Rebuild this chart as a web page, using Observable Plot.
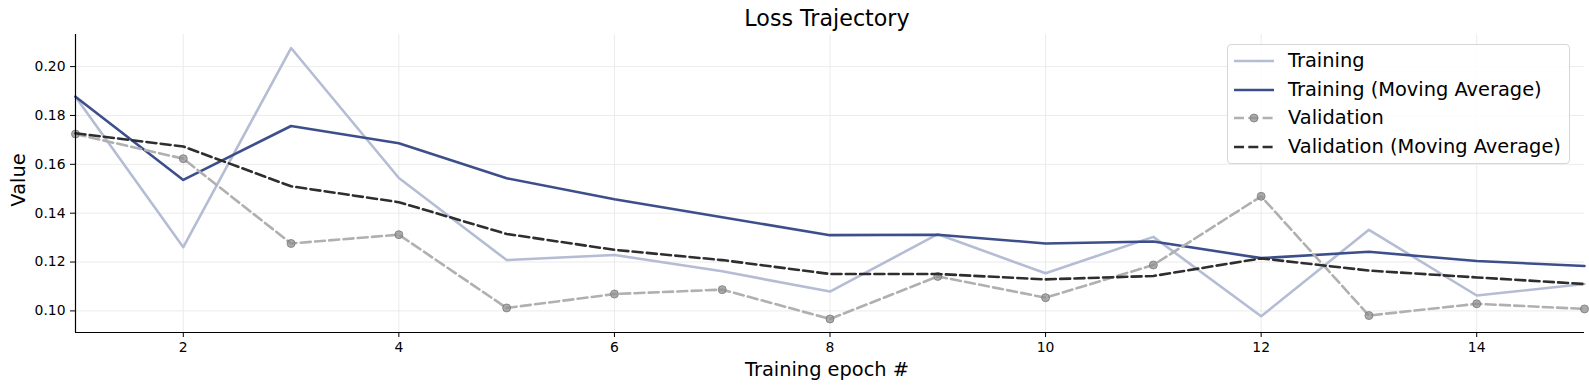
<!DOCTYPE html>
<html>
<head>
<meta charset="utf-8">
<script src="https://cdn.jsdelivr.net/npm/d3@7"></script>
<script src="https://cdn.jsdelivr.net/npm/@observablehq/plot@0.6"></script>
<style>
  html, body { margin: 0; padding: 0; background: #fff; }
  body { font-family: "DejaVu Sans", sans-serif; }
  #wrap { position: relative; width: 1589px; height: 390px; overflow: hidden; }
  #title { height: 30px; width: 1589px; position: relative; }
  #title span { position: absolute; left: 827px; top: 7px; transform: translateX(-50%); font-size: 22.2px; color: #000; white-space: nowrap; line-height: 1; }
  .lbl { position: absolute; font-size: 19.4px; color: #000; white-space: nowrap; line-height: 1; }
  #legend { position: absolute; left: 1227px; top: 44px; width: 343px; height: 120px; box-sizing: border-box;
            border: 1px solid #d6d6d6; border-radius: 4px; background: rgba(255,255,255,0.85); }
  #legend .row { position: absolute; left: 0; height: 24px; }
  #legend .row svg { position: absolute; left: 5px; top: 0; }
  #legend .row span { position: absolute; left: 60px; top: 2px; font-size: 19.4px; line-height: 20px; white-space: nowrap; color: #000; }
</style>
</head>
<body>
<div id="wrap">
  <div id="title"><span>Loss Trajectory</span></div>
  <div id="chart"></div>
  <div class="lbl" id="xlabel" style="left:827px; top:360px; transform:translateX(-50%);">Training epoch #</div>
  <div class="lbl" id="ylabel" style="left:19.4px; top:179.5px; transform:translate(-50%,-50%) rotate(-90deg);">Value</div>
  <div id="legend"></div>
</div>
<script>
// ---- data ----
const epochs = [1, 2, 3, 4, 5, 6, 7, 8, 9, 10, 11, 12, 13, 14, 15];
const training = [0.1877, 0.1261, 0.2076, 0.1544, 0.1208, 0.1229, 0.1162, 0.1079, 0.1314, 0.1154, 0.1303, 0.0978, 0.1332, 0.1063, 0.1110];
const trainingMA = [0.1877, 0.1536, 0.1757, 0.1686, 0.1543, 0.1457, 0.1383, 0.1310, 0.1312, 0.1276, 0.1284, 0.1216, 0.1242, 0.1204, 0.1184];
const validation = [0.1724, 0.1623, 0.1276, 0.1312, 0.1012, 0.1069, 0.1087, 0.0967, 0.1141, 0.1054, 0.1188, 0.1469, 0.0981, 0.1029, 0.1008];
const validationMA = [0.1727, 0.1673, 0.1510, 0.1445, 0.1315, 0.1250, 0.1208, 0.1151, 0.1151, 0.1129, 0.1143, 0.1215, 0.1165, 0.1137, 0.1110];
const xTicks = [2, 4, 6, 8, 10, 12, 14];
const yTicks = [0.10, 0.12, 0.14, 0.16, 0.18, 0.20];
const seriesNames = ["Training", "Training (Moving Average)", "Validation", "Validation (Moving Average)"];

// ---- styles ----
const C_TRAIN = "#b5bdd5";
const C_TRAIN_MA = "#3d4f8b";
const C_VAL = "#b0b0b0";
const C_VAL_MA = "#2e2e2e";
const DASH = "10,4.3";

const rows = (vals) => epochs.map((e, i) => ({epoch: e, value: vals[i]}));
const dTrain = rows(training), dTrainMA = rows(trainingMA), dVal = rows(validation), dValMA = rows(validationMA);

// matplotlib-like 5% margins
const allVals = training.concat(trainingMA, validation, validationMA);
const vmin = d3.min(allVals), vmax = d3.max(allVals), pad = (vmax - vmin) * 0.05;
const yDomain = [vmin - pad, vmax + pad];
const xDomain = [d3.min(epochs), d3.max(epochs)];

const chart = Plot.plot({
  width: 1589,
  height: 360,
  marginTop: 4,
  marginLeft: 75,
  marginRight: 5,
  marginBottom: 58,
  style: {fontFamily: "DejaVu Sans, sans-serif", fontSize: "13.9px", color: "#000", background: "transparent", overflow: "visible"},
  x: {domain: xDomain, label: null},
  y: {domain: yDomain, label: null},
  marks: [
    Plot.gridX(xTicks, {stroke: "#e9e9e9", strokeOpacity: 1, strokeWidth: 0.9}),
    Plot.gridY(yTicks, {stroke: "#e9e9e9", strokeOpacity: 1, strokeWidth: 0.9}),
    Plot.line(dTrain, {x: "epoch", y: "value", stroke: C_TRAIN, strokeWidth: 2.6}),
    Plot.line(dTrainMA, {x: "epoch", y: "value", stroke: C_TRAIN_MA, strokeWidth: 2.6}),
    Plot.line(dVal, {x: "epoch", y: "value", stroke: C_VAL, strokeWidth: 2.6, strokeDasharray: DASH}),
    Plot.dot(dVal, {x: "epoch", y: "value", r: 4, fill: "#8f8f8f", fillOpacity: 0.75, stroke: "#7a7a7a", strokeOpacity: 0.8, strokeWidth: 1}),
    Plot.line(dValMA, {x: "epoch", y: "value", stroke: C_VAL_MA, strokeWidth: 2.6, strokeDasharray: DASH}),
    Plot.ruleX([xDomain[0]], {stroke: "#000", strokeWidth: 1.2}),
    Plot.ruleY([yDomain[0]], {stroke: "#000", strokeWidth: 1.2}),
    Plot.axisX(xTicks, {tickSize: 5, tickPadding: 5, fontSize: "13.9px", stroke: "#000", label: null}),
    Plot.axisY(yTicks, {tickSize: 5, tickPadding: 5, fontSize: "13.9px", tickFormat: d3.format(".2f"), stroke: "#000", label: null})
  ]
});
document.getElementById("chart").appendChild(chart);

// ---- legend ----
const legend = document.getElementById("legend");
const legendStyles = [
  {stroke: C_TRAIN, dash: null, dot: false},
  {stroke: C_TRAIN_MA, dash: null, dot: false},
  {stroke: C_VAL, dash: DASH, dot: true},
  {stroke: C_VAL_MA, dash: DASH, dot: false}
];
const rowTops = [4, 33, 61, 90];
seriesNames.forEach((name, i) => {
  const s = legendStyles[i];
  const row = document.createElement("div");
  row.className = "row";
  row.style.top = rowTops[i] + "px";
  row.innerHTML =
    `<svg width="44" height="24"><line x1="1" x2="41" y1="12" y2="12" stroke="${s.stroke}" stroke-width="2.6"${s.dash ? ` stroke-dasharray="${s.dash}"` : ""}/>` +
    (s.dot ? `<circle cx="21" cy="12" r="4" fill="#8f8f8f" fill-opacity="0.75" stroke="#7a7a7a" stroke-opacity="0.8"/>` : "") +
    `</svg><span>${name}</span>`;
  legend.appendChild(row);
});
</script>
</body>
</html>
